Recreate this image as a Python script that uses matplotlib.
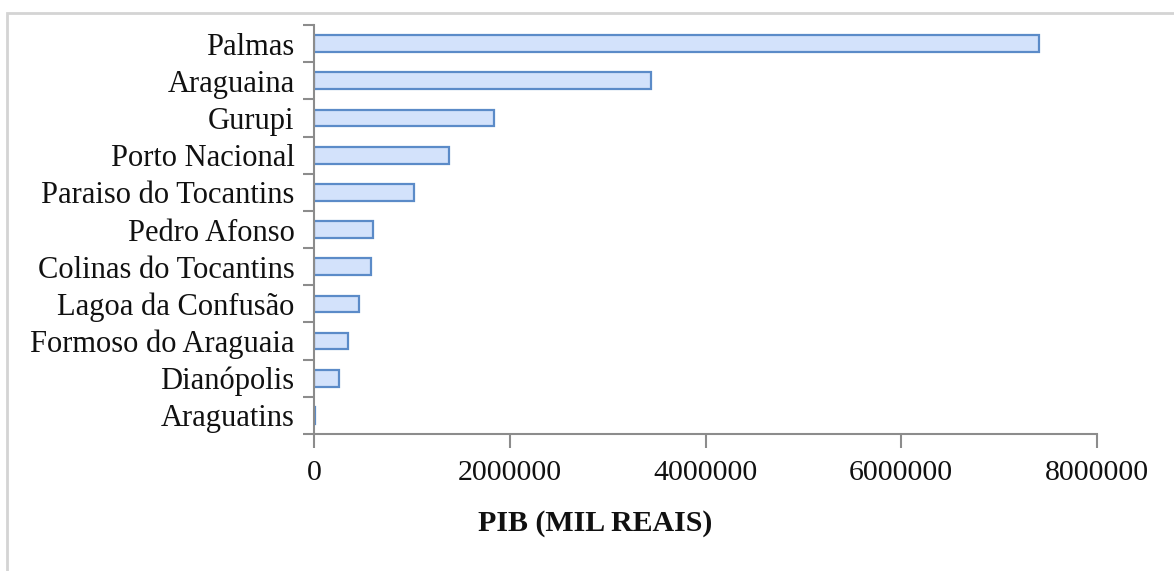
import matplotlib.pyplot as plt
from matplotlib.patches import Rectangle
from matplotlib.ticker import FixedLocator, FuncFormatter

# municipios do Tocantins, PIB em mil reais
cidades = ['Palmas', 'Araguaina', 'Gurupi', 'Porto Nacional', 'Paraiso do Tocantins',
           'Pedro Afonso', 'Colinas do Tocantins', 'Lagoa da Confusão',
           'Formoso do Araguaia', 'Dianópolis', 'Araguatins']
pib = [7410000, 3440000, 1840000, 1380000, 1025000, 600000, 580000,
       455000, 350000, 255000, 10000]
xticks = [0, 2000000, 4000000, 6000000, 8000000]

plt.rcParams['font.family'] = ['Liberation Serif', 'DejaVu Serif']

fig = plt.figure(figsize=(11.74, 5.71), dpi=100)
ax = fig.add_axes([0.2675, 0.2399, 0.6669, 0.7163])

# moldura do grafico
fig.patches.append(Rectangle((7 / 1174, -0.1), 1.2, 1 - 13 / 571 + 0.1,
                             transform=fig.transFigure, fill=False,
                             edgecolor='#d4d4d4', linewidth=2))

pos = list(range(len(cidades)))[::-1]
ax.barh(pos, pib, height=0.45, color='#d3e2fb', edgecolor='#5b8bc8', linewidth=1.6)

ax.set_xlim(0, 8000000)
ax.set_ylim(-0.5, len(cidades) - 0.5)
ax.set_xticks(xticks)
ax.xaxis.set_major_formatter(FuncFormatter(lambda v, p: '%d' % v))
ax.set_yticks(pos)
ax.set_yticklabels(cidades)
ax.yaxis.set_minor_locator(FixedLocator([i - 0.5 for i in range(len(cidades) + 1)]))

ax.tick_params(axis='y', which='major', length=0, pad=14, labelsize=22, colors='#111111')
ax.tick_params(axis='y', which='minor', length=8, width=1.5, color='#8c8c8c')
ax.tick_params(axis='x', length=10, width=1.5, color='#8c8c8c', pad=9,
               labelsize=21.5, labelcolor='#111111')

for s in ['top', 'right']:
    ax.spines[s].set_visible(False)
for s in ['left', 'bottom']:
    ax.spines[s].set_color('#8c8c8c')
    ax.spines[s].set_linewidth(1.5)

ax.set_xlabel('PIB (MIL REAIS)', fontsize=21.5, fontweight='bold', color='#111111')
ax.xaxis.set_label_coords(0.359, -0.22)
ax.xaxis.label.set_va('center')

fig.savefig('out.png', dpi=100)
